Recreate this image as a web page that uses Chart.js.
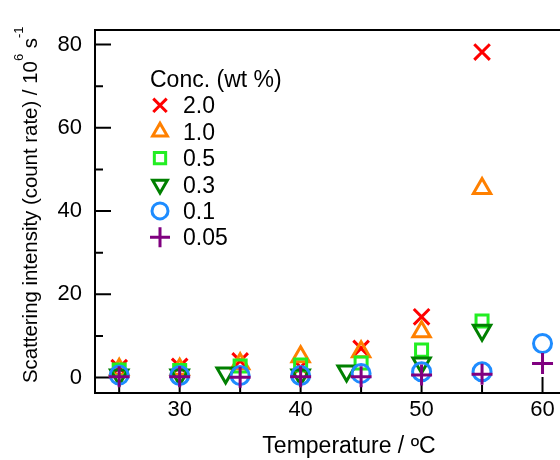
<!DOCTYPE html>
<html><head><meta charset="utf-8">
<script src="https://cdn.jsdelivr.net/npm/chart.js@4.4.0/dist/chart.umd.min.js"></script>
<style>html,body{margin:0;padding:0;overflow:hidden;background:#fff}#wrap{width:617px;height:460px}</style>
</head><body><div id="wrap"><canvas id="c" width="617" height="460"></canvas></div>
<script>
// ---- data ----
const seriesLabels = ['2.0', '1.0', '0.5', '0.3', '0.1', '0.05'];
const temps   = [25, 30, 35, 40, 45, 50, 55, 60];
const temps03 = [25, 30, 33.8, 40, 43.8, 50, 55];
const conc20  = [2.4, 2.7, 4.0, 2.5, 7.0, 14.6, 78.2];
const conc10  = [2.0, 2.0, 3.3, 5.0, 6.2, 11.0, 45.4];
const conc05  = [1.8, 1.7, 2.8, 3.0, 3.5, 6.6, 13.6];
const conc03  = [0.6, 0.6, 1.1, 0.6, 1.6, 3.5, 11.4];
const conc01  = [0.6, 0.5, 0.5, 0.5, 1.0, 1.4, 1.4, 8.2];
const conc005 = [0.2, 0.2, 0.1, 0.2, 0.2, 0.6, 0.8, 3.4];
const xTicks = [30, 40, 50, 60];
const xMinorTicks = [25, 35, 45, 55];
const yTicks = [0, 20, 40, 60, 80];
const yMinorTicks = [10, 30, 50, 70];
const legendTitle = 'Conc. (wt %)';
const xTitle = 'Temperature / ºC';
const yTitleMain = 'Scattering intensity (count rate) / 10';
const yTitleSup1 = '6';
const yTitleMid = ' s';
const yTitleSup2 = '-1';

const FONT = "'Liberation Sans', Arial, Helvetica, sans-serif";
Chart.defaults.font.family = FONT;
Chart.defaults.color = '#000';

const styles = [
  {color: '#FF0000', pointStyle: 'crossRot', rotation: 0,   r: 11,  lr: 9.5},
  {color: '#FF8000', pointStyle: 'triangle', rotation: 0,   r: 10,  lr: 8.5},
  {color: '#22EE22', pointStyle: 'rect',     rotation: 0,   r: 8.5, lr: 8},
  {color: '#008000', pointStyle: 'triangle', rotation: 180, r: 10,  lr: 8.5},
  {color: '#1E8CFF', pointStyle: 'circle',   rotation: 0,   r: 9,   lr: 8},
  {color: '#800080', pointStyle: 'cross',    rotation: 0,   r: 10.5,lr: 10}
];
const xs = [temps, temps, temps, temps03, temps, temps];
const ys = [conc20, conc10, conc05, conc03, conc01, conc005];

const datasets = seriesLabels.map((lab, i) => ({
  label: lab,
  data: ys[i].map((v, j) => ({x: xs[i][j], y: v})),
  pointStyle: styles[i].pointStyle,
  pointRotation: styles[i].rotation,
  pointRadius: styles[i].r,
  pointHoverRadius: styles[i].r,
  pointBorderWidth: 3,
  pointBorderColor: styles[i].color,
  pointBackgroundColor: 'rgba(0,0,0,0)',
  showLine: false,
  order: seriesLabels.length - i
}));

const framePlugin = {
  id: 'frame',
  beforeDatasetsDraw(chart) {
    const {ctx, chartArea: a, scales: {x, y}} = chart;
    ctx.save();
    ctx.strokeStyle = '#000';
    ctx.lineWidth = 2;
    ctx.beginPath();
    ctx.rect(a.left, a.top, a.right - a.left, a.bottom - a.top);
    ctx.stroke();
    ctx.beginPath();
    xTicks.forEach(v => { const p = x.getPixelForValue(v); ctx.moveTo(p, a.bottom); ctx.lineTo(p, a.bottom - 16); });
    xMinorTicks.forEach(v => { const p = x.getPixelForValue(v); ctx.moveTo(p, a.bottom); ctx.lineTo(p, a.bottom - 8); });
    yTicks.forEach(v => { const p = y.getPixelForValue(v); ctx.moveTo(a.left, p); ctx.lineTo(a.left + 16, p); });
    yMinorTicks.forEach(v => { const p = y.getPixelForValue(v); ctx.moveTo(a.left, p); ctx.lineTo(a.left + 8, p); });
    ctx.stroke();
    ctx.restore();
  },
  afterDraw(chart) {
    const ctx = chart.ctx;
    // y-axis title with superscripts
    ctx.save();
    ctx.translate(37, 383);
    ctx.rotate(-Math.PI / 2);
    ctx.fillStyle = '#000';
    ctx.textBaseline = 'alphabetic';
    ctx.textAlign = 'left';
    let px = 0;
    const seg = (t, size, dy) => { ctx.font = size + 'px ' + FONT; ctx.fillText(t, px, dy); px += ctx.measureText(t).width; };
    seg(yTitleMain, 20.4, 0);
    seg(yTitleSup1, 13, -14);
    seg(yTitleMid, 20.4, 0);
    seg(yTitleSup2, 13, -14);
    ctx.restore();

    // legend
    ctx.save();
    ctx.fillStyle = '#000';
    ctx.font = '23px ' + FONT;
    ctx.textAlign = 'left';
    ctx.textBaseline = 'alphabetic';
    ctx.fillText(legendTitle, 150, 86.5);
    seriesLabels.forEach((lab, i) => {
      const base = 113.3 + i * 26.4;
      ctx.fillStyle = '#000';
      ctx.fillText(lab, 183, base);
      ctx.strokeStyle = styles[i].color;
      ctx.fillStyle = 'rgba(0,0,0,0)';
      ctx.lineWidth = 3;
      Chart.helpers.drawPoint(ctx, {pointStyle: styles[i].pointStyle, rotation: styles[i].rotation, radius: styles[i].lr, borderWidth: 3}, 160, base - 8);
    });
    ctx.restore();
  }
};

new Chart(document.getElementById('c'), {
  type: 'scatter',
  data: {datasets},
  options: {
    responsive: false,
    animation: false,
    events: [],
    layout: {padding: {top: 30, right: 0, left: 0, bottom: 0}},
    plugins: {legend: {display: false}, tooltip: {enabled: false}},
    scales: {
      x: {
        type: 'linear', min: 23, max: 65,
        grid: {display: false, drawTicks: false},
        border: {display: false},
        afterBuildTicks: s => { s.ticks = xTicks.map(v => ({value: v})); },
        afterFit: s => { s.height = 67; s.paddingLeft = 0; s.paddingRight = 0; },
        ticks: {padding: 4, font: {size: 22}, color: '#000', maxRotation: 0, autoSkip: false},
        title: {display: true, text: xTitle, font: {size: 23}, color: '#000', padding: {top: 0, bottom: 0}}
      },
      y: {
        type: 'linear', min: -3.7, max: 83.5,
        grid: {display: false, drawTicks: false},
        border: {display: false},
        afterBuildTicks: s => { s.ticks = yTicks.map(v => ({value: v})); },
        afterFit: s => { s.width = 95; s.paddingTop = 0; s.paddingBottom = 0; },
        ticks: {padding: 13, font: {size: 22}, color: '#000', autoSkip: false}
      }
    }
  },
  plugins: [framePlugin]
});
</script>
</body></html>
